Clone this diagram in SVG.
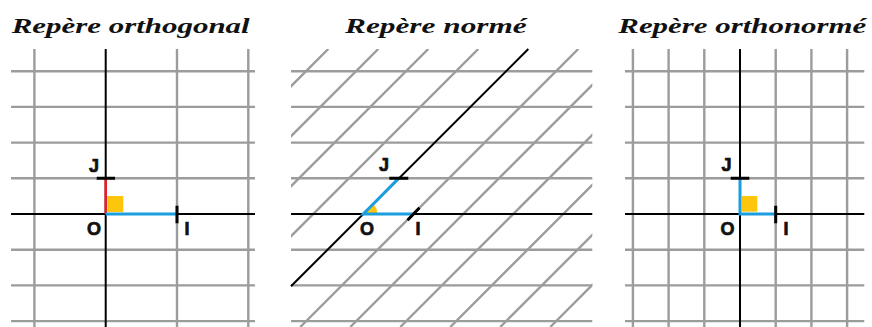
<svg xmlns="http://www.w3.org/2000/svg" width="872" height="327" viewBox="0 0 872 327">
<style>
.title{font-family:"Liberation Serif","Times New Roman",serif;font-style:italic;font-weight:bold;font-size:22px;fill:#111}
.lbl{font-family:"Liberation Sans",Arial,sans-serif;font-weight:bold;font-size:18px;fill:#111;stroke:#111;stroke-width:0.7}
.grid{stroke:#9c9c9c;stroke-width:2.4;fill:none}
.axis{stroke:#000;stroke-width:2;fill:none}
.tick{stroke:#000;stroke-width:3;fill:none}
.blue{stroke:#1a9ee0;stroke-width:3;fill:none}
.red{stroke:#ee1c25;stroke-width:2.5;fill:none}
.yel{fill:#fdc60c}
</style>
<defs>
<clipPath id="clipN"><rect x="291" y="49" width="301.3" height="290"/></clipPath>
</defs>
<rect width="872" height="327" fill="#fff"/>

<g id="titles">
<text class="title" x="11.7" y="33.3" textLength="238" lengthAdjust="spacingAndGlyphs">Repère orthogonal</text>
<text class="title" x="345" y="33.3" textLength="181.7" lengthAdjust="spacingAndGlyphs">Repère normé</text>
<text class="title" x="618.3" y="33.3" textLength="248" lengthAdjust="spacingAndGlyphs">Repère orthonormé</text>
</g>

<g id="panel-orthogonal">
<g class="grid">
<path d="M11 71.2H255M11 106.9H255M11 142.6H255M11 178.3H255M11 249.7H255M11 285.4H255M11 321.1H255"/>
<path d="M34.4 49V327M177 49V327M248.3 49V327"/>
</g>
<path class="axis" d="M11 214H255M105.7 49V327"/>
<rect class="yel" x="107.3" y="196" width="16" height="16"/>
<path class="red" d="M105.7 214V178.3"/>
<path class="blue" d="M105.7 214H177"/>
<path class="tick" d="M96.7 178.3H115M177 205.7V223.3"/>
<text class="lbl" x="89" y="171.5">J</text>
<text class="lbl" x="87" y="234.5">O</text>
<text class="lbl" x="184.5" y="234.5">I</text>
</g>

<g id="panel-norme">
<g class="grid">
<path d="M291 71.2H592.3M291 106.9H592.3M291 142.6H592.3M291 178.3H592.3M291 249.7H592.3M291 285.4H592.3M291 321.1H592.3"/>
<g clip-path="url(#clipN)">
<path d="M328.3 49L50.3 327M378.3 49L100.3 327M428.3 49L150.3 327M478.3 49L200.3 327M578.3 49L300.3 327M628.3 49L350.3 327M678.3 49L400.3 327M728.3 49L450.3 327M778.3 49L500.3 327M828.3 49L550.3 327"/>
</g>
</g>
<path class="axis" d="M291 214H592.3M528.3 49L291 286.3"/>
<path class="yel" d="M363.3 214L377.3 214A14 14 0 0 0 373.2 204.1Z"/>
<path class="blue" d="M413.3 214H363.3L398.7 178.3"/>
<path class="tick" d="M389.3 178.3H408.3M407.5 220.2L419.5 207.8"/>
<text class="lbl" x="379" y="170.5">J</text>
<text class="lbl" x="360" y="234.5">O</text>
<text class="lbl" x="415.5" y="234.5">I</text>
</g>

<g id="panel-orthonorme">
<g class="grid">
<path d="M625 71.2H864.3M625 106.9H864.3M625 142.6H864.3M625 178.3H864.3M625 249.7H864.3M625 285.4H864.3M625 321.1H864.3"/>
<path d="M632.9 49V327M668.6 49V327M704.3 49V327M775.7 49V327M811.4 49V327M847.1 49V327"/>
</g>
<path class="axis" d="M625 214H864.3M740 49V327"/>
<rect class="yel" x="741.7" y="196" width="15.6" height="15.7"/>
<path class="blue" d="M740 178.3V214H775.7"/>
<path class="tick" d="M730.7 178.3H749.3M775.7 205.7V223.3"/>
<text class="lbl" x="721.5" y="171">J</text>
<text class="lbl" x="720.5" y="234.5">O</text>
<text class="lbl" x="783.5" y="234.5">I</text>
</g>
</svg>
